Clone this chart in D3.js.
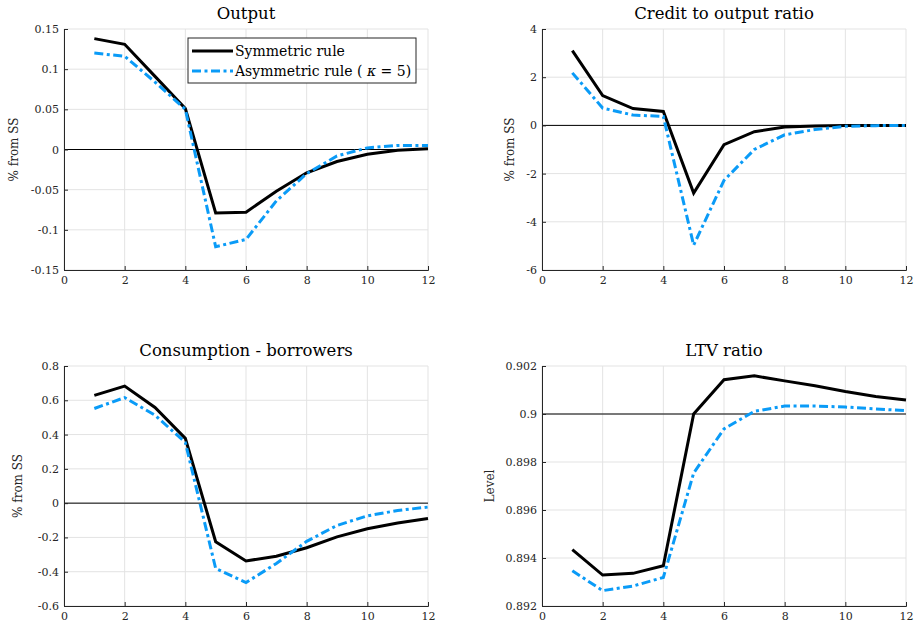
<!DOCTYPE html>
<html><head><meta charset="utf-8">
<script src="https://cdn.jsdelivr.net/npm/d3@7"></script>
<style>
body{margin:0;background:#fff;}
</style></head>
<body><svg id="c" width="915" height="629"></svg>
<script>
const periods = [1,2,3,4,5,6,7,8,9,10,11,12];
const xTicks = [0,2,4,6,8,10,12];

const outputSym  = [0.138,0.131,0.091,0.051,-0.079,-0.078,-0.052,-0.029,-0.015,-0.006,-0.001,0.001];
const outputAsym = [0.120,0.116,0.084,0.050,-0.121,-0.112,-0.064,-0.030,-0.008,0.002,0.005,0.005];

const creditSym  = [3.10,1.24,0.70,0.58,-2.81,-0.80,-0.26,-0.07,-0.02,0.0,0.0,0.0];
const creditAsym = [2.18,0.72,0.43,0.37,-4.97,-2.28,-1.00,-0.39,-0.17,-0.04,-0.01,0.0];

const consSym  = [0.629,0.683,0.558,0.378,-0.225,-0.337,-0.310,-0.260,-0.197,-0.149,-0.116,-0.089];
const consAsym = [0.552,0.616,0.513,0.354,-0.381,-0.463,-0.352,-0.223,-0.130,-0.074,-0.043,-0.023];

const ltvSym  = [0.89435,0.89329,0.89336,0.89368,0.9000,0.90143,0.90159,0.90138,0.90118,0.90094,0.90073,0.90058];
const ltvAsym = [0.89347,0.89264,0.89283,0.89319,0.89754,0.89938,0.90011,0.90033,0.90033,0.90029,0.90021,0.90014];

const outputTicks = [-0.15,-0.1,-0.05,0,0.05,0.1,0.15];
const creditTicks = [-6,-4,-2,0,2,4];
const consTicks = [-0.6,-0.4,-0.2,0,0.2,0.4,0.6,0.8];
const ltvTicks = [0.892,0.894,0.896,0.898,0.9,0.902];

const legendLabels = ["Symmetric rule","Asymmetric rule ( ", "κ", " = 5)"];

const FONT = '"DejaVu Serif",serif';
const BLUE = "#0a9bf7";
const DASH = "9,3.5,3,3.5";
const svg = d3.select("#c");

const panels = [
  {title:"Output", ylab:"% from SS", x0:64, x1:428, y0:29, y1:270, dom:[-0.15,0.15], ticks:outputTicks, ref:0, sym:outputSym, asym:outputAsym, legend:true, ylx:18},
  {title:"Credit to output ratio", ylab:"% from SS", x0:542, x1:906, y0:29, y1:270, dom:[-6,4], ticks:creditTicks, ref:0, sym:creditSym, asym:creditAsym, ylx:514},
  {title:"Consumption - borrowers", ylab:"% from SS", x0:64, x1:428, y0:366, y1:606, dom:[-0.6,0.8], ticks:consTicks, ref:0, sym:consSym, asym:consAsym, ylx:22},
  {title:"LTV ratio", ylab:"Level", x0:542, x1:906, y0:366, y1:606, dom:[0.892,0.902], ticks:ltvTicks, ref:0.9, sym:ltvSym, asym:ltvAsym, ylx:494}
];

function fmt(v){
  if (v===0) return "0";
  return String(+v.toFixed(4));
}

panels.forEach(p=>{
  const x = d3.scaleLinear().domain([0,12]).range([p.x0,p.x1]);
  const y = d3.scaleLinear().domain(p.dom).range([p.y1,p.y0]);
  const g = svg.append("g");
  g.selectAll(".vg").data(xTicks).join("line")
    .attr("x1",d=>x(d)).attr("x2",d=>x(d)).attr("y1",p.y0).attr("y2",p.y1)
    .attr("stroke","#e3e3e3").attr("stroke-width",1);
  g.selectAll(".hg").data(p.ticks).join("line")
    .attr("x1",p.x0).attr("x2",p.x1).attr("y1",d=>y(d)).attr("y2",d=>y(d))
    .attr("stroke","#e3e3e3").attr("stroke-width",1);
  g.append("line").attr("x1",p.x0).attr("x2",p.x1).attr("y1",y(p.ref)).attr("y2",y(p.ref))
    .attr("stroke","#000").attr("stroke-width",1);
  const xa = d3.axisBottom(x).tickValues(xTicks).tickSize(-4).tickPadding(6).tickFormat(d=>d);
  const ya = d3.axisLeft(y).tickValues(p.ticks).tickSize(-4).tickPadding(5).tickFormat(fmt);
  const gx = g.append("g").attr("transform",`translate(0,${p.y1})`).call(xa);
  const gy = g.append("g").attr("transform",`translate(${p.x0},0)`).call(ya);
  [gx,gy].forEach(a=>{
    a.attr("font-family",FONT).attr("font-size",11);
    a.select(".domain").attr("stroke","#262626").attr("stroke-width",1);
    a.selectAll(".tick line").attr("stroke","#262626");
    a.selectAll("text").attr("fill","#262626");
  });
  const line = d3.line().x((d,i)=>x(periods[i])).y(d=>y(d));
  g.append("path").attr("d",line(p.sym)).attr("fill","none").attr("stroke","#000")
    .attr("stroke-width",3);
  g.append("path").attr("d",line(p.asym)).attr("fill","none").attr("stroke",BLUE)
    .attr("stroke-width",3).attr("stroke-dasharray",DASH);
  g.append("text").attr("x",(p.x0+p.x1)/2).attr("y",p.y0-10).attr("text-anchor","middle")
    .attr("font-family",FONT).attr("font-size",16.5).attr("fill","#000").text(p.title);
  g.append("text").attr("transform",`translate(${p.ylx},${(p.y0+p.y1)/2}) rotate(-90)`)
    .attr("text-anchor","middle").attr("font-family",FONT).attr("font-size",12).attr("fill","#262626").text(p.ylab);
  if (p.legend){
    const lg = g.append("g");
    lg.append("rect").attr("x",188).attr("y",38).attr("width",228).attr("height",45)
      .attr("fill","#fff").attr("stroke","#262626").attr("stroke-width",1);
    const rows = [{c:"#000",dash:null,ty:51},{c:BLUE,dash:DASH,ty:71}];
    rows.forEach((r,i)=>{
      lg.append("line").attr("x1",192).attr("x2",233).attr("y1",r.ty).attr("y2",r.ty)
        .attr("stroke",r.c).attr("stroke-width",3).attr("stroke-dasharray",r.dash);
      const t = lg.append("text").attr("x",235).attr("y",r.ty+5).attr("font-family",FONT).attr("font-size",14).attr("fill","#000");
      if (i===0) t.text(legendLabels[0]);
      else {
        t.append("tspan").text(legendLabels[1]);
        t.append("tspan").attr("font-style","italic").text(legendLabels[2]);
        t.append("tspan").text(legendLabels[3]);
      }
    });
  }
});
</script></body></html>
